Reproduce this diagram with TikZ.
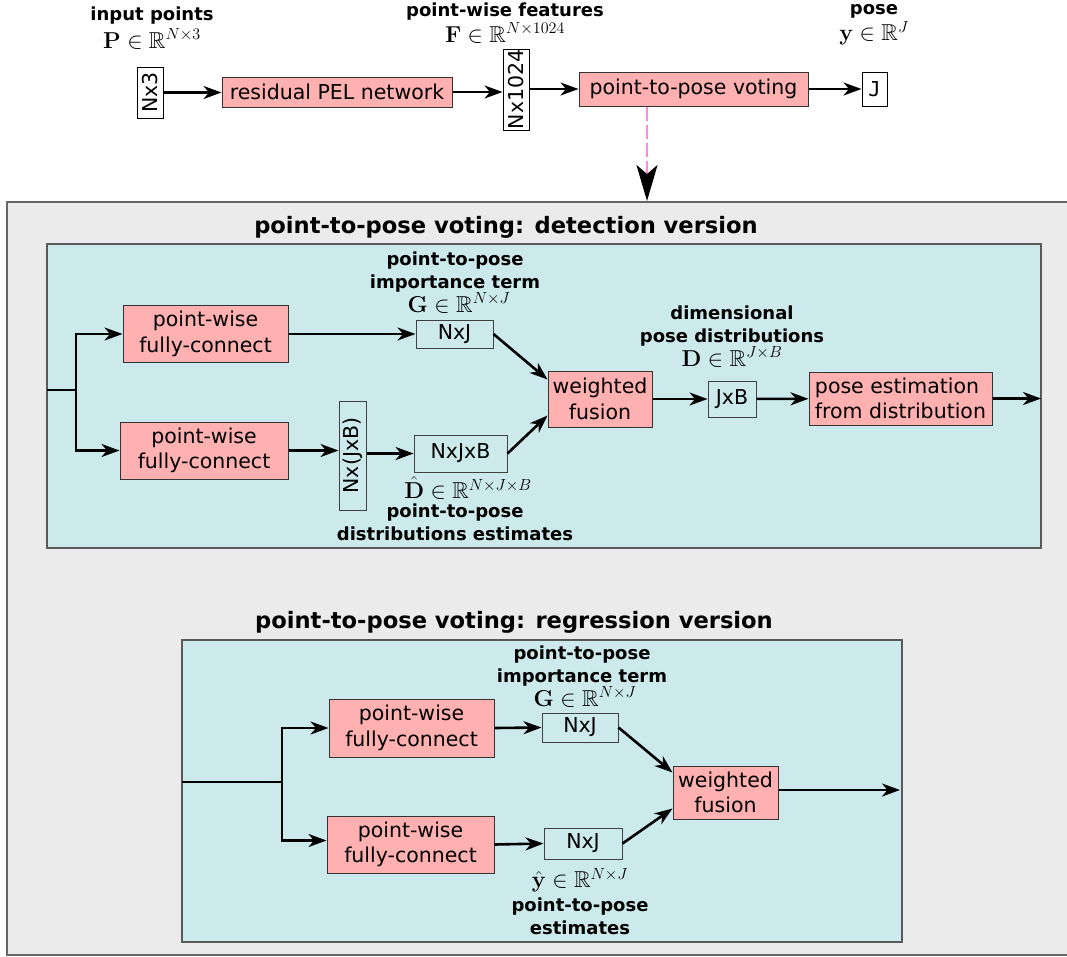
\RequirePackage{fix-cm}
\documentclass[tikz,border=0pt]{standalone}
\usepackage{amssymb}
\usepackage[no-math]{fontspec}
\setmainfont{DejaVu Sans}
\newfontfamily\jmono{DejaVu Sans Mono}
\usetikzlibrary{arrows.meta}
\definecolor{pinkfill}{HTML}{FFB0B0}
\definecolor{cyanfill}{HTML}{CCEAEC}
\definecolor{grayfill}{HTML}{EBEBEB}
\definecolor{dashpink}{HTML}{FF88DD}
\newcommand\bodyfont{\fontsize{20.5}{25.5}\selectfont}
\newcommand\labfont{\fontsize{18}{22.5}\selectfont\bfseries}
\newcommand\titfont{\fontsize{22.6}{27}\selectfont\bfseries}
\newcommand\mathfnt{\fontsize{23}{25}\selectfont}
\tikzset{
 box/.style={draw, line width=1pt, inner sep=0pt, align=center, font=\bodyfont},
 pinkbox/.style={box, fill=pinkfill, draw=black!80},
 whitebox/.style={box, fill=white, draw=black},
 tealbox/.style={box, fill=cyanfill, draw=black!75},
 arr/.style={line width=2.6pt, -{Stealth[length=18pt,width=13pt,inset=5.5pt]}},
 ln/.style={line width=2.6pt},
 lab/.style={align=center, font=\labfont, inner sep=0pt},
 mth/.style={font=\mathfnt, inner sep=0pt},
 panel/.style={draw=black!65, line width=1.5pt, fill=cyanfill},
 ttl/.style={font=\titfont, inner sep=0pt},
}
\begin{document}
\begin{tikzpicture}[x=1pt,y=-1pt]
\useasboundingbox (0,0) rectangle (1067,956);
% ---------- top row ----------
\node[lab] (lin) at (152,16) {input points};
\node[mth] (min) at (152,39) {$\mathbf{P}\in\mathbb{R}^{N\times 3}$};
\node[lab] (lfeat) at (505,12) {point-wise features};
\node[mth] (mfeat) at (505,33) {$\mathbf{F}\in\mathbb{R}^{N\times 1024}$};
\node[lab] (lpose) at (874,11) {pose};
\node[mth] (mpose) at (874,33) {$\mathbf{y}\in\mathbb{R}^{J}$};

\node[whitebox, rotate=90, minimum width=51pt, minimum height=26pt] (nx3) at (150,92.5) {Nx3};
\node[pinkbox, minimum width=230pt, minimum height=30pt] (res) at (337,92) {residual PEL network};
\node[whitebox, rotate=90, minimum width=81pt, minimum height=26pt] (nf) at (516,89.5) {Nx1024};
\node[pinkbox, minimum width=229pt, minimum height=34pt] (vote) at (693.5,89) {point-to-pose voting};
\node[whitebox, minimum width=25pt, minimum height=34pt] (jout) at (874.5,89) {\jmono J};

\draw[arr] (nx3) -- (nx3 -| res.west);
\draw[arr] (res.east) -- (res.east -| nf.north);
\draw[arr] (nf.south |- vote) -- (vote.west);
\draw[arr] (vote) -- (jout);

% ---------- outer gray panel ----------
\draw[fill=grayfill, draw=black!60, line width=2pt] (7,202) rectangle (1080,955);
\coordinate (dtip) at (647,201);
\draw[dashpink, line width=2.2pt, dash pattern=on 14pt off 4pt,
      -{Stealth[black,length=36pt,width=21pt,inset=9pt]}] (vote.south -| dtip) -- (dtip);

% ---------- detection version ----------
\node[ttl] (tdet) at (506,227) {point-to-pose voting: detection version};
\draw[panel] (47,244) rectangle (1041,548);

\node[pinkbox, minimum width=165pt, minimum height=57pt] (dpw1) at (205.5,334) {point-wise\\fully-connect};
\node[pinkbox, minimum width=168pt, minimum height=57pt] (dpw2) at (204,450.5) {point-wise\\fully-connect};
\node[tealbox, minimum width=77pt, minimum height=28pt] (dg) at (454.5,334) {NxJ};
\node[tealbox, rotate=90, minimum width=109pt, minimum height=27pt] (dnjb) at (352.5,455.5) {Nx(JxB)};
\node[tealbox, minimum width=93pt, minimum height=37pt] (dd) at (460.5,453.5) {NxJxB};
\node[pinkbox, minimum width=104pt, minimum height=56pt] (dwf) at (600,399) {weighted\\fusion};
\node[tealbox, minimum width=48pt, minimum height=36pt] (djb) at (732,399) {JxB};
\node[pinkbox, align=left, minimum width=183pt, minimum height=53pt] (dpe) at (900.5,398.5) {pose estimation\\from distribution};

\coordinate (din) at (47,390);
\coordinate (dbr) at (76,390);
\coordinate (dout) at (1041,398.5);
\draw[ln] (din) -- (dbr);
\draw[arr] (dbr) |- (dpw1.west);
\draw[arr] (dbr) |- (dpw2.west);
\draw[arr] (dpw1.east) -- (dg.west);
\draw[arr] (dpw2.east) -- (dpw2.east -| dnjb.north);
\draw[arr] (dnjb.south |- dd) -- (dd.west);
\draw[arr] (dg.east) -- ([yshift=-9pt]dwf.north west);
\draw[arr] (dd.east) -- ([yshift=12pt]dwf.south west);
\draw[arr] (dwf) -- (djb);
\draw[arr] (djb) -- (dpe);
\draw[arr] (dpe) -- (dout);

\node[lab] (ldg) at (455,272) {point-to-pose\\importance term};
\node[mth] (mdg) at (459,303) {$\mathbf{G}\in\mathbb{R}^{N\times J}$};
\node[lab] (ldjb) at (732,326) {dimensional\\pose distributions};
\node[mth] (mdjb) at (732,357) {$\mathbf{D}\in\mathbb{R}^{J\times B}$};
\node[mth] (mdd) at (468,488) {$\hat{\mathbf{D}}\in\mathbb{R}^{N\times J\times B}$};
\node[lab] (ldd) at (455,522.5) {point-to-pose\\distributions estimates};

% ---------- regression version ----------
\node[ttl] (treg) at (514,622) {point-to-pose voting: regression version};
\draw[panel] (182,640) rectangle (902,942);

\node[pinkbox, minimum width=165pt, minimum height=58pt] (rpw1) at (411.5,728) {point-wise\\fully-connect};
\node[pinkbox, minimum width=167pt, minimum height=57pt] (rpw2) at (410.5,844.5) {point-wise\\fully-connect};
\node[tealbox, minimum width=76pt, minimum height=29pt] (rg) at (580,727.5) {NxJ};
\node[tealbox, minimum width=78pt, minimum height=31pt] (ry) at (583,843.5) {NxJ};
\node[pinkbox, minimum width=105pt, minimum height=53pt] (rwf) at (725.5,792.5) {weighted\\fusion};

\coordinate (rin) at (182,782);
\coordinate (rbr) at (282,782);
\coordinate (rout) at (900,790);
\draw[ln] (rin) -- (rbr);
\draw[arr] (rbr) |- (rpw1.west);
\draw[arr] (rbr) |- ([yshift=4pt]rpw2.west);
\draw[arr] (rpw1.east) -- (rg.west);
\draw[arr] (rpw2.east) -- (ry.west);
\draw[arr] (rg.east) -- ([yshift=-7pt]rwf.north west);
\draw[arr] (ry.east) -- ([yshift=11pt]rwf.south west);
\draw[arr] (rwf.east |- rout) -- (rout);

\node[lab] (lrg) at (582,666) {point-to-pose\\importance term};
\node[mth] (mrg) at (585,697) {$\mathbf{G}\in\mathbb{R}^{N\times J}$};
\node[mth] (mry) at (580,880) {$\hat{\mathbf{y}}\in\mathbb{R}^{N\times J}$};
\node[lab] (lry) at (580,916.5) {point-to-pose\\estimates};
\end{tikzpicture}
\end{document}
